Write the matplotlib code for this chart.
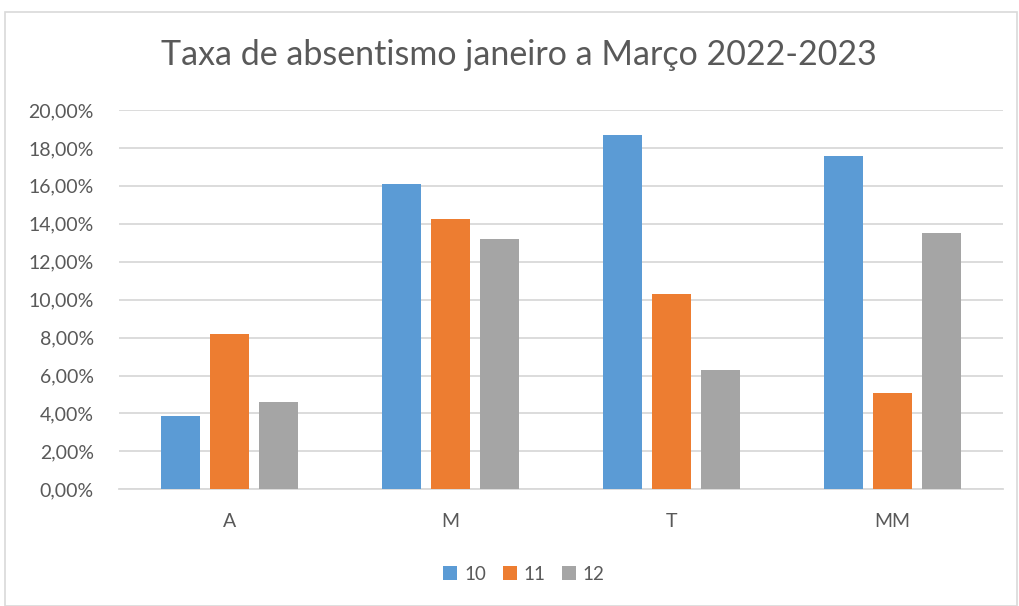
import numpy as np
import matplotlib.pyplot as plt
from matplotlib.patches import Rectangle
from matplotlib.ticker import FuncFormatter

categories = ["A", "M", "T", "MM"]
series_names = ["10", "11", "12"]
s10 = [3.88, 16.10, 18.66, 17.57]
s11 = [8.20, 14.26, 10.30, 5.07]
s12 = [4.61, 13.21, 6.28, 13.51]
colors = ["#5b9bd5", "#ed7d31", "#a5a5a5"]

plt.rcParams['font.family'] = ['Lato', 'DejaVu Sans']

W, H = 1019, 606
fig = plt.figure(figsize=(W / 100, H / 100), dpi=100)
ax = fig.add_axes([119 / W, 1 - 489.3 / H, (1002.7 - 119) / W, (489.3 - 110) / H])

# outer chart border
fig.patches.append(Rectangle((5 / W, 0.5 / H), (W - 7) / W, (H - 12.5) / H,
                             transform=fig.transFigure, fill=False,
                             edgecolor="#d9d9d9", linewidth=1.2))

x = np.arange(len(categories))
width = 0.175
step = 0.222
for i, (vals, name) in enumerate(zip([s10, s11, s12], series_names)):
    ax.bar(x + (i - 1) * step, vals, width, color=colors[i], label=name, zorder=3)

ax.set_xlim(-0.5, len(categories) - 0.5)
ax.set_ylim(0, 20)
ax.set_yticks(np.arange(0, 21, 2))
ax.yaxis.set_major_formatter(FuncFormatter(lambda v, p: f"{v:.2f}%".replace(".", ",")))
ax.set_xticks(x)
ax.set_xticklabels(categories)
ax.grid(axis="y", color="#d9d9d9", linewidth=1.3, zorder=0)
for s in ["top", "right", "left"]:
    ax.spines[s].set_visible(False)
ax.spines["bottom"].set_color("#d9d9d9")
ax.spines["bottom"].set_linewidth(1.3)
ax.tick_params(axis="both", length=0, labelsize=14, colors="#595959")
ax.tick_params(axis="x", pad=17)
ax.tick_params(axis="y", pad=18)

fig.text(519 / W, 1 - 55 / H, "Taxa de absentismo janeiro a Março 2022-2023",
         ha="center", va="center", fontsize=24.5, color="#595959")

fig.legend(loc="center", bbox_to_anchor=(524 / W, 1 - 574 / H), ncol=3,
           frameon=False, fontsize=13.5, handlelength=0.75, handleheight=0.75,
           handletextpad=0.35, columnspacing=0.9, labelcolor="#595959")

fig.savefig("out.png", dpi=100)
